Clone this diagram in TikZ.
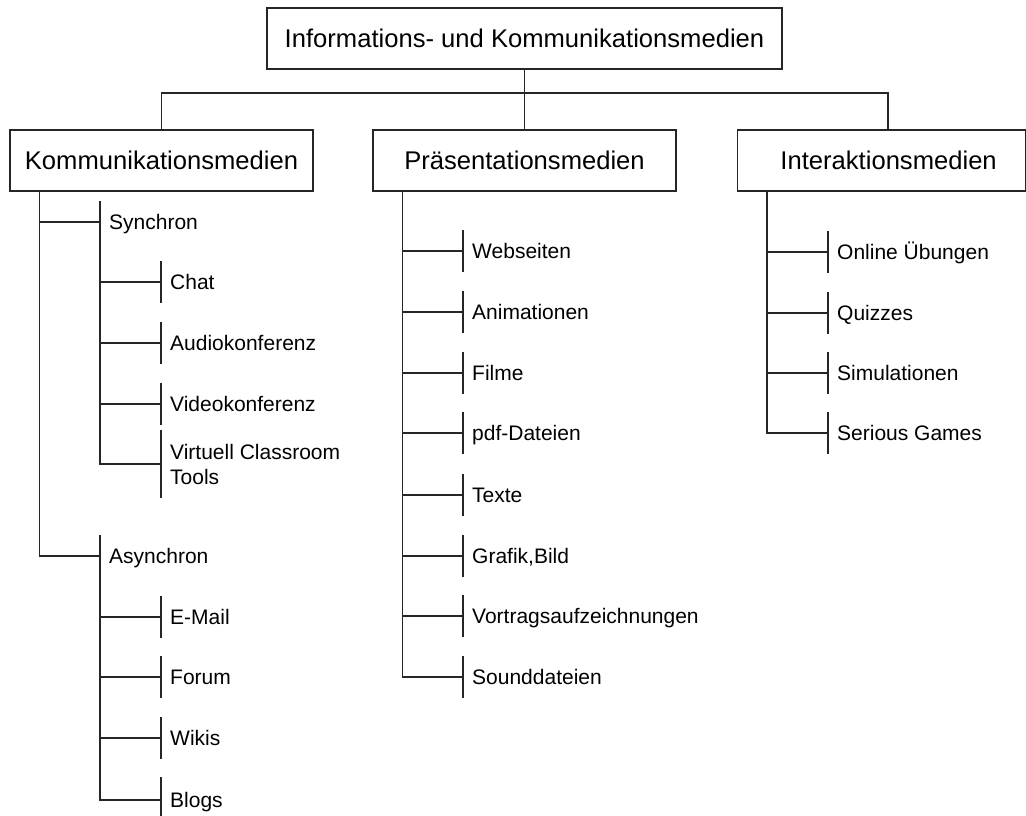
\documentclass[tikz,border=0pt]{standalone}
\usepackage{fontspec}
\setmainfont{Liberation Sans}
\begin{document}
\begin{tikzpicture}[x=1pt,y=-1pt,
  line/.style={line width=1.2pt, draw=black!85},
  box/.style={line, rectangle, inner sep=0pt, minimum height=61pt,
    font=\fontsize{25.6}{30}\selectfont},
  leaf/.style={anchor=west, inner ysep=0pt, inner xsep=9pt,
    text height=15pt, text depth=0pt, font=\fontsize{21}{25}\selectfont},
  tick/.style={line},
]
\useasboundingbox (0,0) rectangle (1026,816);

% top level and the three groups
\node[box, minimum width=515pt] (top) at (524.5,38.5) {Informations- und Kommunikationsmedien};
\node[box, minimum width=303pt] (komm) at (161.5,160.5) {Kommunikationsmedien};
\node[box, minimum width=303pt] (praes) at (524.5,160.5) {Präsentationsmedien};
\node[box, minimum width=288pt, anchor=west] (inter) at (737,160.5) {\hspace*{14pt}Interaktionsmedien};

\coordinate (bus) at (0,93);
\coordinate (interin) at (888,130);
\draw[line] (top.south) -- (praes.north);
\draw[line] (komm.north) |- (interin |- bus) -- (interin);

% trunks under the groups
\coordinate (kt) at ([xshift=30pt]komm.south west);
\coordinate (pt) at ([xshift=30pt]praes.south west);
\coordinate (it) at ([xshift=30pt]inter.south west);

% Kommunikationsmedien
\node[leaf] (sync) at (100,222) {Synchron};
\node[leaf] (chat) at (161,282) {Chat};
\node[leaf] (audio) at (161,343) {Audiokonferenz};
\node[leaf] (video) at (161,404) {Videokonferenz};
\node[anchor=west, inner ysep=0pt, inner xsep=9pt, align=left,
  font=\fontsize{21}{25}\selectfont] (vct) at (161,464) {Virtuell Classroom\\Tools};
\node[leaf] (async) at (100,556) {Asynchron};
\node[leaf] (mail) at (161,617) {E-Mail};
\node[leaf] (forum) at (161,677) {Forum};
\node[leaf] (wikis) at (161,738) {Wikis};
\node[leaf] (blogs) at (161,800) {Blogs};

\draw[line] (kt) |- (sync.west);
\draw[line] (kt) |- (async.west);
\foreach \n in {chat,audio,video,vct} \draw[line] (sync.west) |- (\n.west);
\foreach \n in {mail,forum,wikis,blogs} \draw[line] (async.west) |- (\n.west);
\foreach \n in {sync,chat,audio,video,async,mail,forum,wikis}
  \draw[tick] ([yshift=21pt]\n.west) -- ([yshift=-21pt]\n.west);
\draw[tick] ([yshift=34pt]vct.west) -- ([yshift=-34pt]vct.west);
\draw[tick] ([yshift=23pt]blogs.west) -- ([yshift=-20pt]blogs.west);

% Präsentationsmedien
\node[leaf] (web) at (463,251) {Webseiten};
\node[leaf] (anim) at (463,312) {Animationen};
\node[leaf] (film) at (463,373) {Filme};
\node[leaf] (pdf) at (463,433) {pdf-Dateien};
\node[leaf] (texte) at (463,495) {Texte};
\node[leaf] (grafik) at (463,556) {Grafik,Bild};
\node[leaf] (vortrag) at (463,616) {Vortragsaufzeichnungen};
\node[leaf] (sound) at (463,677) {Sounddateien};
\foreach \n in {web,anim,film,pdf,texte,grafik,vortrag,sound} {
  \draw[line] (pt) |- (\n.west);
  \draw[tick] ([yshift=21pt]\n.west) -- ([yshift=-21pt]\n.west);
}

% Interaktionsmedien
\node[leaf] (uebung) at (828,252) {Online Übungen};
\node[leaf] (quiz) at (828,313) {Quizzes};
\node[leaf] (sim) at (828,373) {Simulationen};
\node[leaf] (games) at (828,433) {Serious Games};
\foreach \n in {uebung,quiz,sim,games} {
  \draw[line] (it) |- (\n.west);
  \draw[tick] ([yshift=21pt]\n.west) -- ([yshift=-21pt]\n.west);
}
\end{tikzpicture}
\end{document}
